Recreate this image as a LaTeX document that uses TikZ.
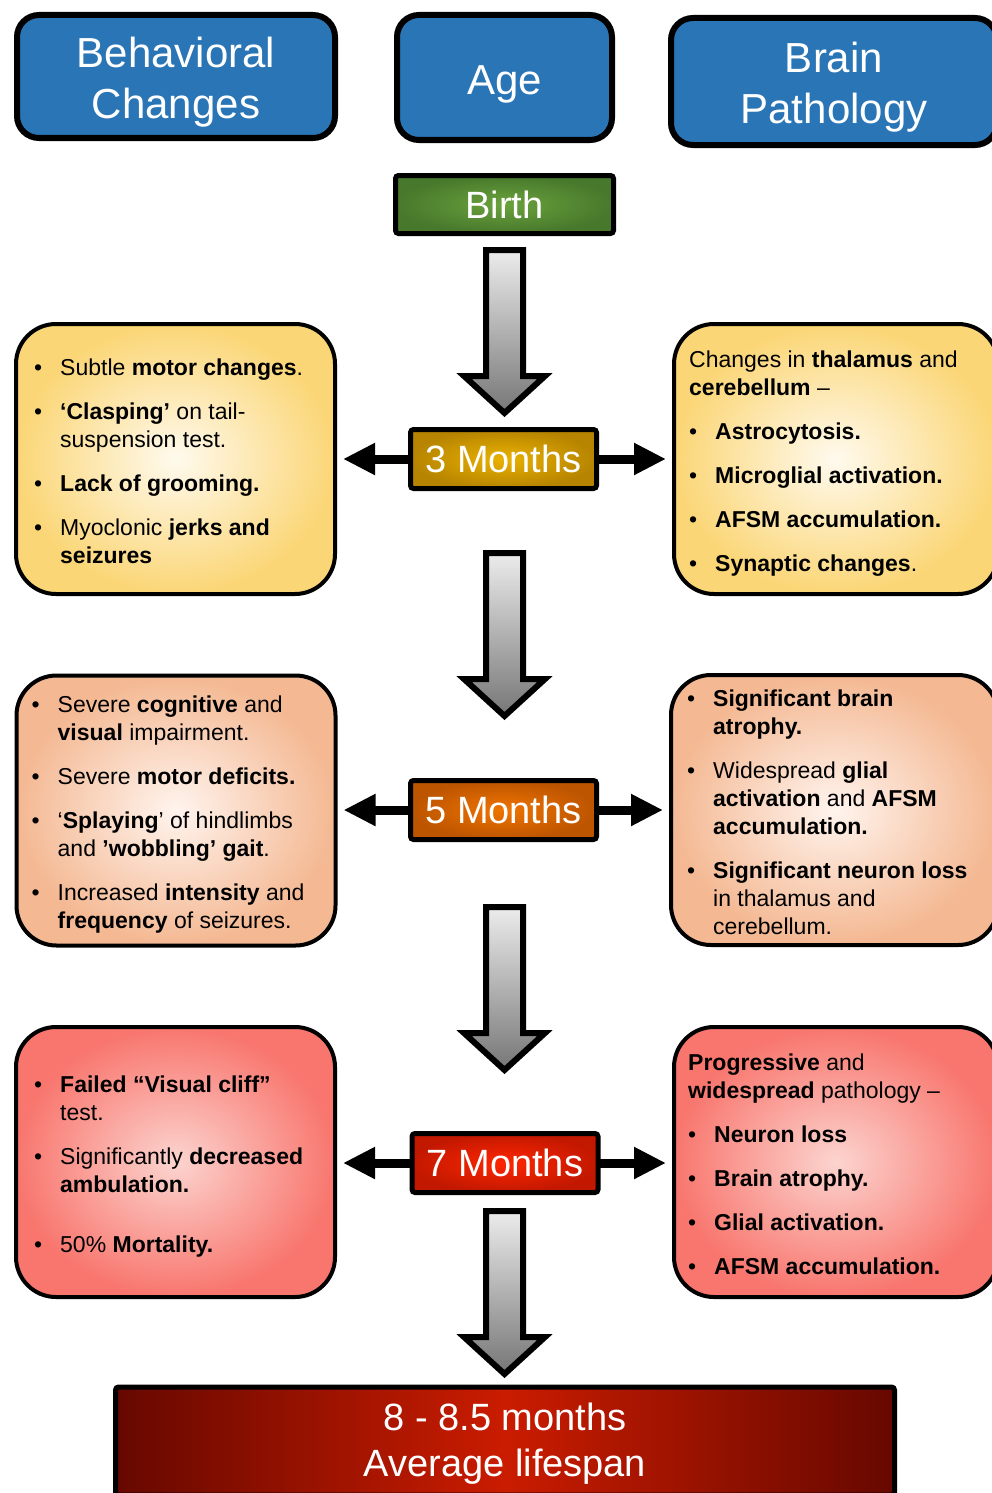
\documentclass[tikz,border=0pt]{standalone}
\usepackage{fontspec}
\setmainfont{Liberation Sans}
\usetikzlibrary{arrows.meta}

\definecolor{headblue}{RGB}{42,117,181}
\definecolor{birthin}{RGB}{106,162,60}
\definecolor{birthout}{RGB}{72,120,44}
\definecolor{goldin}{RGB}{234,178,0}
\definecolor{goldout}{RGB}{182,132,0}
\definecolor{orangein}{RGB}{240,116,0}
\definecolor{orangeout}{RGB}{188,84,0}
\definecolor{redin}{RGB}{255,38,0}
\definecolor{redout}{RGB}{194,24,0}
\definecolor{lifemid}{RGB}{202,28,0}
\definecolor{lifeedge}{RGB}{102,8,0}
\definecolor{yellowin}{RGB}{255,250,238}
\definecolor{yellowout}{RGB}{251,214,118}
\definecolor{peachin}{RGB}{255,244,238}
\definecolor{peachout}{RGB}{244,184,146}
\definecolor{salmonin}{RGB}{252,212,207}
\definecolor{salmonout}{RGB}{248,118,110}
\definecolor{arrowtop}{RGB}{236,236,236}
\definecolor{arrowbottom}{RGB}{118,118,118}

\tikzset{
	headbox/.style={
		draw,
		line width=6pt,
		rounded corners=22pt,
		fill=headblue,
		text=white,
		inner sep=0pt,
		outer sep=0pt,
		font=\fontsize{42}{51}\selectfont
	},
	agebox/.style={
		draw,
		line width=5pt,
		rounded corners=3pt,
		shading=radial,
		text=white,
		align=center,
		inner sep=0pt,
		outer sep=0pt,
		minimum width=186pt,
		minimum height=59pt,
		font=\fontsize{38}{46}\selectfont
	},
	panel/.style={
		draw,
		line width=4pt,
		rounded corners=40pt,
		shading=radial,
		inner sep=0pt,
		outer sep=0pt,
		minimum width=319pt,
		minimum height=270pt
	},
	paneltext/.style={
		anchor=west,
		inner sep=0pt,
		font=\fontsize{23}{28}\selectfont
	},
	downarrow/.style={
		line width=6pt,
		line join=miter,
		top color=arrowtop,
		bottom color=arrowbottom
	},
	sidearrow/.style={
		line width=9pt,
		-{Triangle[length=32pt,width=30pt]},
		shorten >=8pt
	}
}

% Zeilen nach unten setzen, Box bleibt gleich gross
\newcommand{\sinktext}[2]{\raisebox{-#1}[\height][\depth]{%
	\begin{tabular}{@{}c@{}}#2\end{tabular}}}
\newcommand{\hd}[1]{\multicolumn{2}{@{}l@{}}{#1}}

\begin{document}
\begin{tikzpicture}[x=1pt,y=-1pt]
	\useasboundingbox (0,0) rectangle (991,1493);
	% Kopfzeile
	\node[
		headbox,
		minimum width=318pt,
		minimum height=123pt
	] (behav) at (176,76.5) {\sinktext{6pt}{Behavioral\\Changes}};
	\node[
		headbox,
		minimum width=215pt,
		minimum height=125pt
	] (age) at (504.5,77.5) {\sinktext{6.5pt}{Age}};
	\node[
		headbox,
		minimum width=326pt,
		minimum height=127pt
	] (brain) at (834,81.5) {\sinktext{6pt}{Brain\\Pathology}};
	% Geburt
	\node[
		agebox,
		minimum width=218pt,
		minimum height=58pt,
		inner color=birthin,
		outer color=birthout
	] (birth) at (504.5,204.5) {Birth};
	% Pfeile nach unten
	\foreach \t in {250,553,907,1211}{
		\draw[downarrow] (486,\t) -- (523,\t) -- (523,\t+126) -- (545,\t+126) --
			(504.5,\t+163) -- (464,\t+126) -- (486,\t+126) -- cycle;
	}
	% 3 Monate
	\node[
		panel,
		inner color=yellowin,
		outer color=yellowout
	] (b3l) at (175.5,459) {};
	\node[
		panel,
		minimum width=324pt,
		inner color=yellowin,
		outer color=yellowout
	] (b3r) at (836,459) {};
	\node[paneltext] (b3ltext) at ([xshift=18pt,yshift=-4.4pt]b3l.west) {%
		\begin{tabular}{@{}p{26pt}@{}l@{}}
			• & Subtle \textbf{motor changes}.\\[16pt]
			• & \textbf{‘Clasping’} on tail-\\
			  & suspension test.\\[16pt]
			• & \textbf{Lack of grooming.}\\[16pt]
			• & Myoclonic \textbf{jerks and}\\
			  & \textbf{seizures}
		\end{tabular}};
	\node[paneltext] (b3rtext) at ([xshift=15pt,yshift=-4.4pt]b3r.west) {%
		\begin{tabular}{@{}p{26pt}@{}l@{}}
			\hd{Changes in \textbf{thalamus} and}\\
			\hd{\textbf{cerebellum} –}\\[16pt]
			• & \textbf{Astrocytosis.}\\[16pt]
			• & \textbf{Microglial activation.}\\[16pt]
			• & \textbf{AFSM accumulation.}\\[16pt]
			• & \textbf{Synaptic changes}.
		\end{tabular}};
	\node[
		agebox,
		inner color=goldin,
		outer color=goldout
	] (m3) at (503.5,459) {3 Months};
	\draw[sidearrow] (m3.west) -- (m3.west -| b3l.east);
	\draw[sidearrow] (m3.east) -- (m3.east -| b3r.west);
	% 5 Monate
	\node[
		panel,
		inner color=peachin,
		outer color=peachout
	] (b5l) at (176,810.5) {};
	\node[
		panel,
		minimum width=327pt,
		inner color=peachin,
		outer color=peachout
	] (b5r) at (834.5,810) {};
	\node[paneltext] (b5ltext) at ([xshift=15pt,yshift=-4.4pt]b5l.west) {%
		\begin{tabular}{@{}p{26pt}@{}l@{}}
			• & Severe \textbf{cognitive} and\\
			  & \textbf{visual} impairment.\\[16pt]
			• & Severe \textbf{motor deficits.}\\[16pt]
			• & ‘\textbf{Splaying}’ of hindlimbs\\
			  & and \textbf{’wobbling’ gait}.\\[16pt]
			• & Increased \textbf{intensity} and\\
			  & \textbf{frequency} of seizures.
		\end{tabular}};
	\node[paneltext] (b5rtext) at ([xshift=16pt,yshift=-4.4pt]b5r.west) {%
		\begin{tabular}{@{}p{26pt}@{}l@{}}
			• & \textbf{Significant brain}\\
			  & \textbf{atrophy.}\\[16pt]
			• & Widespread \textbf{glial}\\
			  & \textbf{activation} and \textbf{AFSM}\\
			  & \textbf{accumulation.}\\[16pt]
			• & \textbf{Significant neuron loss}\\
			  & in thalamus and\\
			  & cerebellum.
		\end{tabular}};
	\node[
		agebox,
		inner color=orangein,
		outer color=orangeout
	] (m5) at (503.5,810) {5 Months};
	\draw[sidearrow] (m5.west) -- (m5.west -| b5l.east);
	\draw[sidearrow] (m5.east) -- (m5.east -| b5r.west);
	% 7 Monate
	\node[
		panel,
		inner color=salmonin,
		outer color=salmonout
	] (b7l) at (175.5,1162) {};
	\node[
		panel,
		minimum width=324pt,
		inner color=salmonin,
		outer color=salmonout
	] (b7r) at (836,1162) {};
	\node[paneltext] (b7ltext) at ([xshift=18pt,yshift=-4.4pt]b7l.west) {%
		\begin{tabular}{@{}p{26pt}@{}l@{}}
			• & \textbf{Failed “Visual cliff”}\\
			  & test.\\[16pt]
			• & Significantly \textbf{decreased}\\
			  & \textbf{ambulation.}\\[32pt]
			• & 50\% \textbf{Mortality.}
		\end{tabular}};
	\node[paneltext] (b7rtext) at ([xshift=14pt,yshift=-4.4pt]b7r.west) {%
		\begin{tabular}{@{}p{26pt}@{}l@{}}
			\hd{\textbf{Progressive} and}\\
			\hd{\textbf{widespread} pathology –}\\[16pt]
			• & \textbf{Neuron loss}\\[16pt]
			• & \textbf{Brain atrophy.}\\[16pt]
			• & \textbf{Glial activation.}\\[16pt]
			• & \textbf{AFSM accumulation.}
		\end{tabular}};
	\node[
		agebox,
		inner color=redin,
		outer color=redout
	] (m7) at (505,1163) {7 Months};
	\draw[sidearrow] (m7.west) -- (m7.west -| b7l.east);
	\draw[sidearrow] (m7.east) -- (m7.east -| b7r.west);
	% Lebensdauer
	\node[
		agebox,
		minimum width=779pt,
		minimum height=108pt,
		left color=lifeedge,
		right color=lifeedge,
		middle color=lifemid
	] (life) at (505,1441) {\sinktext{3pt}{8 - 8.5 months\\Average lifespan}};
\end{tikzpicture}
\end{document}
